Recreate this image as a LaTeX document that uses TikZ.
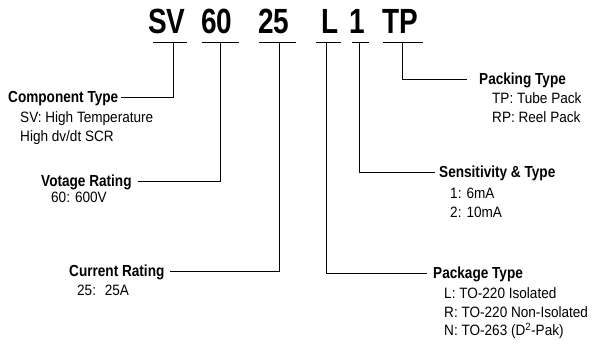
\documentclass[tikz,border=0pt]{standalone}
\usepackage{fontspec}
\setmainfont{Liberation Sans}
\newfontfamily\codefont{Liberation Sans}[FakeStretch=0.8]
\newfontfamily\titlefont{Liberation Sans}[FakeStretch=0.85]
\newfontfamily\descfont{Liberation Sans}[FakeStretch=0.905]
\usetikzlibrary{positioning}
\tikzset{
    code/.style={anchor=base west, inner sep=0pt, font=\codefont\bfseries\fontsize{35}{35}\selectfont},
    field/.style={anchor=west, inner ysep=0pt, inner xsep=3pt, text height=11pt, text depth=0pt, font=\titlefont\bfseries\fontsize{16}{16}\selectfont},
    values/.style={anchor=north west, inner sep=0pt, align=left, font=\descfont\fontsize{15}{18.7}\selectfont},
    rule/.style={line width=0.9pt},
    link/.style={line width=0.9pt},
}

\begin{document}
\begin{tikzpicture}[x=1pt, y=-1pt]
        \useasboundingbox (0,0) rectangle (592,348);

        % Part number
        \node[code] (sv) at (148,33) {SV};
        \node[code] (volt) at (201,33) {60};
        \node[code] (amp) at (258,33) {25};
        \node[code] (pkg) at (321,33) {L};
        \node[code] (sens) at (349,33) {1};
        \node[code] (pack) at (382,33) {TP};

        % Underlines and taps
        \coordinate (svL) at (153,42);  \coordinate (svR) at (187,42);  \coordinate (svT) at (173,42);
        \coordinate (voltL) at (202,42); \coordinate (voltR) at (239,42); \coordinate (voltT) at (220,42);
        \coordinate (ampL) at (259,42);  \coordinate (ampR) at (296,42);  \coordinate (ampT) at (279,42);
        \coordinate (pkgL) at (316,42);  \coordinate (pkgR) at (341,42);  \coordinate (pkgT) at (326,42);
        \coordinate (sensL) at (352,42); \coordinate (sensR) at (369,42); \coordinate (sensT) at (359,42);
        \coordinate (packL) at (383,42); \coordinate (packR) at (423,42); \coordinate (packT) at (402,42);
        \foreach \p in {sv, volt, amp, pkg, sens, pack}
            \draw[rule] (\p L) -- (\p R);

        % Left fields
        \node[field] (comptype) at (5,97) {Component Type};
        \node[values] (compvals) at (20,111.5) {SV: High Temperature\\High dv/dt SCR};
        \node[field, inner xsep=6pt] (volttype) at (35,181) {Votage Rating};
        \node[values] (voltvals) at (51,192.3) {60: 600V};
        \node[field, inner xsep=5pt] (amptype) at (64,271) {Current Rating};
        \node[values] (ampvals) at (77,284.7) {25: \ 25A};

        % Right fields
        \node[field, inner xsep=12pt] (packtype) at (467,79) {Packing Type};
        \node[values] (packvals) at (492,92.3) {TP: Tube Pack\\RP: Reel Pack};
        \node[field, inner xsep=4pt] (senstype) at (435,172) {Sensitivity \& Type};
        \node[values] (sensvals) at (450,188) {1: 6mA\\2: 10mA};
        \node[field, inner xsep=6pt] (pkgtype) at (427,273) {Package Type};
        \node[values] (pkgvals) at (444,287.3) {L: TO-220 Isolated\\R: TO-220 Non-Isolated\\N: TO-263 (D\textsuperscript{2}-Pak)};

        % Connectors
        \draw[link] (svT) |- (comptype.east);
        \draw[link] (voltT) |- (volttype.east);
        \draw[link] (ampT) |- (amptype.east);
        \draw[link] (pkgT) |- (pkgtype.west);
        \draw[link] (sensT) |- (senstype.west);
        \draw[link] (packT) |- (packtype.west);
    \end{tikzpicture}
\end{document}
